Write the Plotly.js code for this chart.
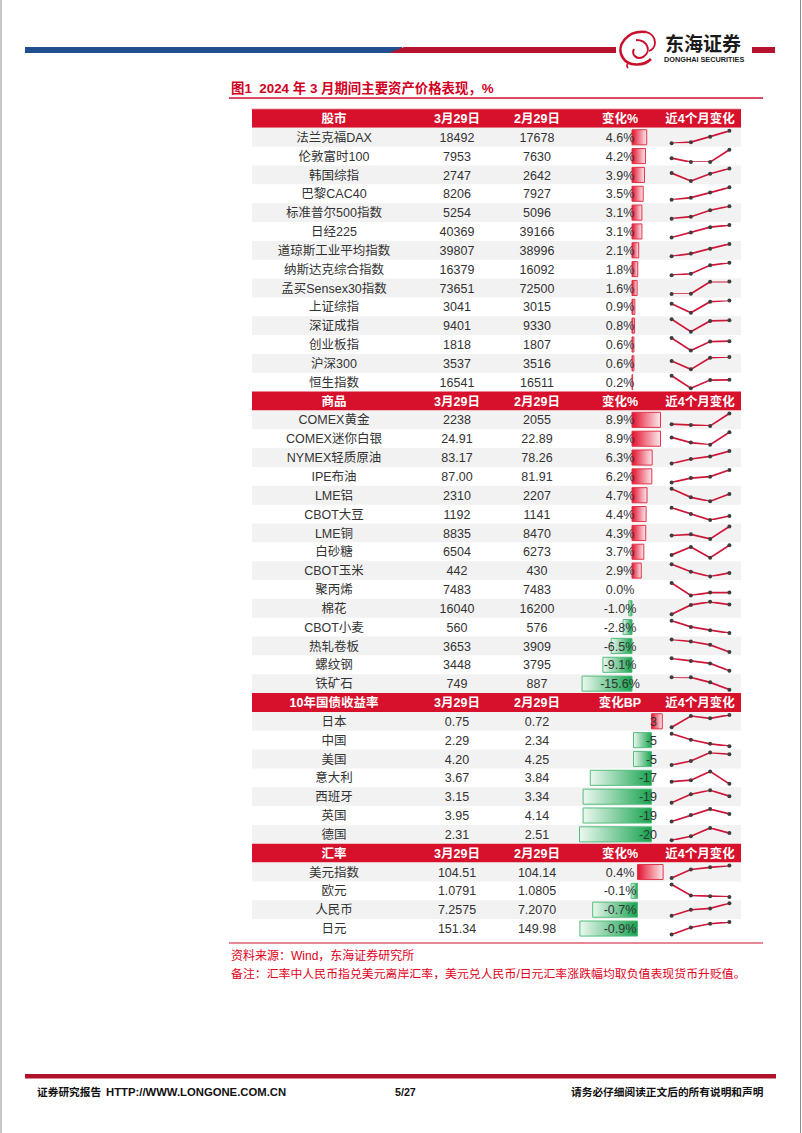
<!DOCTYPE html>
<html>
<head>
<meta charset="utf-8">
<script src="https://cdn.plot.ly/plotly-3.0.1.min.js"></script>
<style>
html,body{margin:0;padding:0;background:#ffffff;}
#chart{width:802px;height:1133px;}
</style>
</head>
<body>
<div id="chart"></div>
<script>
// ---------------- DATA ----------------
const stockHeader = ['股市', '3月29日', '2月29日', '变化%', '近4个月变化'];
const stockNames = ['法兰克福DAX','伦敦富时100','韩国综指','巴黎CAC40','标准普尔500指数','日经225','道琼斯工业平均指数','纳斯达克综合指数','孟买Sensex30指数','上证综指','深证成指','创业板指','沪深300','恒生指数'];
const stockMar = [18492,7953,2747,8206,5254,40369,39807,16379,73651,3041,9401,1818,3537,16541];
const stockFeb = [17678,7630,2642,7927,5096,39166,38996,16092,72500,3015,9330,1807,3516,16511];
const stockDigits = [0,0,0,0,0,0,0,0,0,0,0,0,0,0];
const stockChg = [4.6,4.2,3.9,3.5,3.1,3.1,2.1,1.8,1.6,0.9,0.8,0.6,0.6,0.2];
const stockSpark = [
  [16752,16904,17678,18492],
  [7733,7631,7630,7953],
  [2655,2497,2642,2747],
  [7543,7657,7927,8206],
  [4770,4846,5096,5254],
  [33464,36287,39166,40369],
  [37690,38150,38996,39807],
  [15011,15164,16092,16379],
  [71450,71480,73620,73651],
  [2975,2789,3015,3041],
  [9525,8113,9330,9401],
  [1891,1593,1807,1818],
  [3431,3216,3516,3537],
  [17047,15485,16511,16541]
];

const comHeader = ['商品', '3月29日', '2月29日', '变化%', '近4个月变化'];
const comNames = ['COMEX黄金','COMEX迷你白银','NYMEX轻质原油','IPE布油','LME铝','CBOT大豆','LME铜','白砂糖','CBOT玉米','聚丙烯','棉花','CBOT小麦','热轧卷板','螺纹钢','铁矿石'];
const comMar = [2238,24.91,83.17,87.00,2310,1192,8835,6504,442,7483,16040,560,3653,3448,749];
const comFeb = [2055,22.89,78.26,81.91,2207,1141,8470,6273,430,7483,16200,576,3909,3795,887];
const comDigits = [0,2,2,2,0,0,0,0,0,0,0,0,0,0,0];
const comChg = [8.9,8.9,6.3,6.2,4.7,4.4,4.3,3.7,2.9,0.0,-1.0,-2.8,-6.5,-9.1,-15.6];
const comSpark = [
  [2080,2069,2055,2238],
  [24.08,23.24,22.89,24.91],
  [71.65,75.85,78.26,83.17],
  [77.5,80.8,81.91,87.00],
  [2384,2262,2207,2310],
  [1298,1218,1141,1192],
  [8570,8605,8470,8835],
  [6326,6472,6273,6504],
  [471,446,430,442],
  [7694,7420,7483,7483],
  [15470,16020,16200,16040],
  [628,594,576,560],
  [4100,4030,3909,3653],
  [4030,3910,3795,3448],
  [985,982,887,749]
];

const bondHeader = ['10年国债收益率', '3月29日', '2月29日', '变化BP', '近4个月变化'];
const bondNames = ['日本','中国','美国','意大利','西班牙','英国','德国'];
const bondMar = [0.75,2.29,4.20,3.67,3.15,3.95,2.31];
const bondFeb = [0.72,2.34,4.25,3.84,3.34,4.14,2.51];
const bondDigits = [2,2,2,2,2,2,2];
const bondChg = [3,-5,-5,-17,-19,-19,-20];
const bondSpark = [
  [0.64,0.74,0.72,0.75],
  [2.56,2.43,2.34,2.29],
  [3.88,4.00,4.25,4.20],
  [3.70,3.72,3.84,3.67],
  [2.94,3.21,3.34,3.15],
  [3.65,3.91,4.14,3.95],
  [2.03,2.19,2.51,2.31]
];

const fxHeader = ['汇率', '3月29日', '2月29日', '变化%', '近4个月变化'];
const fxNames = ['美元指数','欧元','人民币','日元'];
const fxMar = [104.51,1.0791,7.2575,151.34];
const fxFeb = [104.14,1.0805,7.2070,149.98];
const fxDigits = [2,4,4,2];
const fxChg = [0.4,-0.1,-0.7,-0.9];
const fxSpark = [
  [101.9,103.7,104.14,104.51],
  [1.1039,1.0818,1.0805,1.0791],
  [7.1350,7.1940,7.2070,7.2575],
  [141.0,146.9,149.98,151.34]
];

// ---------------- LAYOUT CONSTANTS ----------------
const W = 802, H = 1133;
const TOP = 109, RH = 18.84, NROW = 44;
const TEXT_DY = 0.08;               // optical centring of text inside a row
const X = p => p / W;
const Y = p => 1 - p / H;
const FAM = '"Liberation Sans", Arial, "Noto Sans CJK SC", sans-serif';
const HEAD_RED = '#d7112c';
const TXT = '#333333';
const COLX = {name: 334, mar: 457, feb: 537, chg: 620, spark: 700, bondChg: 657};

const pct = v => v.toFixed(1) + '%';
const bp = v => String(v);

const sections = [
  {head: stockHeader, names: stockNames, mar: stockMar, feb: stockFeb, digits: stockDigits, chg: stockChg, spark: stockSpark, xa: 'x2', fmt: pct, right: false},
  {head: comHeader, names: comNames, mar: comMar, feb: comFeb, digits: comDigits, chg: comChg, spark: comSpark, xa: 'x2', fmt: pct, right: false},
  {head: bondHeader, names: bondNames, mar: bondMar, feb: bondFeb, digits: bondDigits, chg: bondChg, spark: bondSpark, xa: 'x3', fmt: bp, right: true},
  {head: fxHeader, names: fxNames, mar: fxMar, feb: fxFeb, digits: fxDigits, chg: fxChg, spark: fxSpark, xa: 'x4', fmt: pct, right: false}
];

const shapes = [];
const barTraces = [];
const sparkTraces = [];
const layoutAxes = {};

const headTxt = {x: [], y: [], t: []};
const cols = {name: {x: [], y: [], t: []}, mar: {x: [], y: [], t: []}, feb: {x: [], y: [], t: []}, chg: {x: [], y: [], t: []}, chgR: {x: [], y: [], t: []}};

let r = 0;
let sparkN = 0;
sections.forEach(sec => {
  // header row
  shapes.push({type: 'rect', xref: 'x', yref: 'y', x0: 252, x1: 741, y0: r - 0.5, y1: r + 0.5,
    fillcolor: HEAD_RED, line: {width: 0}, layer: 'below'});
  const hx = [COLX.name, COLX.mar, COLX.feb, COLX.chg, COLX.spark];
  sec.head.forEach((h, j) => { headTxt.x.push(hx[j]); headTxt.y.push(r + TEXT_DY); headTxt.t.push(h); });
  r++;
  sec.names.forEach((nm, k) => {
    if (k % 2 === 0) {
      shapes.push({type: 'rect', xref: 'x', yref: 'y', x0: 252, x1: 741, y0: r - 0.5, y1: r + 0.5,
        fillcolor: '#f2f2f2', line: {width: 0}, layer: 'below'});
    }
    const ty = r + TEXT_DY;
    cols.name.x.push(COLX.name); cols.name.y.push(ty); cols.name.t.push(nm);
    cols.mar.x.push(COLX.mar); cols.mar.y.push(ty); cols.mar.t.push(sec.mar[k].toFixed(sec.digits[k]));
    cols.feb.x.push(COLX.feb); cols.feb.y.push(ty); cols.feb.t.push(sec.feb[k].toFixed(sec.digits[k]));
    if (sec.right) {
      cols.chgR.x.push(COLX.bondChg); cols.chgR.y.push(ty); cols.chgR.t.push(sec.fmt(sec.chg[k]));
    } else {
      cols.chg.x.push(COLX.chg); cols.chg.y.push(ty); cols.chg.t.push(sec.fmt(sec.chg[k]));
    }
    // data bar
    const v = sec.chg[k];
    if (v !== 0) {
      const hh = 0.4;
      const pos = v > 0;
      barTraces.push({
        type: 'scatter', mode: 'lines', xaxis: sec.xa, yaxis: 'y',
        x: [0, v, v, 0, 0], y: [r - hh, r - hh, r + hh, r + hh, r - hh],
        fill: 'toself',
        line: {color: pos ? '#e2334a' : '#52bd7c', width: 1},
        fillcolor: pos ? '#ef7a88' : '#7fd09f',
        fillgradient: {type: 'horizontal',
          colorscale: pos ? [[0, '#e3102d'], [1, '#fdeaed']] : [[0, '#ecf8f0'], [1, '#17a34f']]},
        hoverinfo: 'skip', showlegend: false
      });
    }
    // sparkline on its own y axis
    const s = sec.spark[k];
    const yid = sparkN + 2;
    const topPx = TOP + r * RH + 3.0;
    const botPx = TOP + (r + 1) * RH - 3.4;
    const mn = Math.min(...s), mx = Math.max(...s);
    layoutAxes['yaxis' + yid] = {domain: [Y(botPx), Y(topPx)], range: [mn, mx], anchor: 'x5',
      visible: false, fixedrange: true};
    sparkTraces.push({
      type: 'scatter', mode: 'lines+markers', xaxis: 'x5', yaxis: 'y' + yid,
      x: [0, 1, 2, 3], y: s,
      line: {color: '#cf1638', width: 1.7},
      marker: {size: 4, color: '#3d3d3d'},
      cliponaxis: false, hoverinfo: 'skip', showlegend: false
    });
    sparkN++;
    r++;
  });
});

const txtFont = {family: FAM, size: 12.5, color: TXT};
function textTrace(c, pos, font) {
  return {type: 'scatter', mode: 'text', xaxis: 'x6', yaxis: 'y', x: c.x, y: c.y, text: c.t,
    textposition: pos, textfont: font || txtFont, cliponaxis: false, hoverinfo: 'skip', showlegend: false};
}
const textTraces = [
  textTrace(headTxt, 'middle center', {family: FAM, size: 12.5, color: '#ffffff', weight: 'bold'}),
  textTrace(cols.name, 'middle center'),
  textTrace(cols.mar, 'middle center'),
  textTrace(cols.feb, 'middle center'),
  textTrace(cols.chg, 'middle center'),
  textTrace(cols.chgR, 'middle left')
];

// ---------------- PAGE DECORATION ----------------
function pathPx(str) {
  const tok = str.trim().split(/\s+/);
  let out = [], isX = true;
  tok.forEach(t => {
    if (/^[A-Za-z]$/.test(t)) { out.push(t); isX = true; }
    else { const n = parseFloat(t); out.push(isX ? X(n).toFixed(5) : Y(n).toFixed(5)); isX = !isX; }
  });
  return out.join(' ');
}
shapes.push({type: 'line', xref: 'paper', yref: 'paper', x0: X(1), x1: X(1), y0: 0, y1: 1, line: {color: '#8c8c8c', width: 1}});
shapes.push({type: 'line', xref: 'paper', yref: 'paper', x0: X(800.5), x1: X(800.5), y0: 0, y1: 1, line: {color: '#8c8c8c', width: 1}});
shapes.push({type: 'rect', xref: 'paper', yref: 'paper', x0: X(25), x1: X(402), y0: Y(53), y1: Y(47), fillcolor: '#1f4f8f', line: {width: 0}});
shapes.push({type: 'path', xref: 'paper', yref: 'paper', path: pathPx('M 389 53 L 404 47 L 616 47 L 616 53 Z'), fillcolor: '#b7132f', line: {width: 0}});
shapes.push({type: 'rect', xref: 'paper', yref: 'paper', x0: X(752), x1: X(775), y0: Y(53), y1: Y(47), fillcolor: '#b7132f', line: {width: 0}});
// logo mark (stylised dragon)
shapes.push({type: 'path', xref: 'paper', yref: 'paper', path: pathPx('M 646 32 C 627 30 615 46 623 58 C 628 66 643 67 651 59'), line: {color: '#c8102e', width: 2.6}});
shapes.push({type: 'path', xref: 'paper', yref: 'paper', path: pathPx('M 636 40 C 648 40 652 52 643 57 C 637 60 631 55 634 49'), line: {color: '#c8102e', width: 2}});
shapes.push({type: 'path', xref: 'paper', yref: 'paper', path: pathPx('M 646 32 C 651 33 655 37 655 43 C 655 47 652 50 649 51'), line: {color: '#c8102e', width: 1.8}});
shapes.push({type: 'path', xref: 'paper', yref: 'paper', path: pathPx('M 629 62 C 627 64 626 66 628 68'), line: {color: '#c8102e', width: 1.6}});
// title underline
shapes.push({type: 'line', xref: 'paper', yref: 'paper', x0: X(229), x1: X(763), y0: Y(98), y1: Y(98), line: {color: '#c8102e', width: 1.6}});
// table top thin line
shapes.push({type: 'line', xref: 'paper', yref: 'paper', x0: X(251), x1: X(740), y0: Y(109), y1: Y(109), line: {color: '#e48a95', width: 0.8}});
// source line
shapes.push({type: 'line', xref: 'paper', yref: 'paper', x0: X(229), x1: X(763), y0: Y(943), y1: Y(943), line: {color: '#d0102e', width: 1.2}});
// footer bar
shapes.push({type: 'rect', xref: 'paper', yref: 'paper', x0: X(25), x1: X(776), y0: Y(1078.5), y1: Y(1074), fillcolor: '#b0122c', line: {width: 0}});

const annotations = [
  {xref: 'paper', yref: 'paper', x: X(229), y: Y(88), xanchor: 'left', yanchor: 'middle', showarrow: false,
    text: '图1  2024 年 3 月期间主要资产价格表现，%', font: {family: FAM, size: 13.4, color: '#d2001f', weight: 'bold'}},
  {xref: 'paper', yref: 'paper', x: X(703), y: Y(43), xanchor: 'center', yanchor: 'middle', showarrow: false,
    text: '东海证券', font: {family: '"Noto Sans CJK SC", sans-serif', size: 19, color: '#1a1a1a', weight: 'bold'}},
  {xref: 'paper', yref: 'paper', x: X(704), y: Y(59.5), xanchor: 'center', yanchor: 'middle', showarrow: false,
    text: 'DONGHAI SECURITIES', font: {family: FAM, size: 7.3, color: '#1a1a1a', weight: 'bold'}},
  {xref: 'paper', yref: 'paper', x: X(229), y: Y(955), xanchor: 'left', yanchor: 'middle', showarrow: false,
    text: '资料来源：Wind，东海证券研究所', font: {family: FAM, size: 12.0, color: '#e2001a'}},
  {xref: 'paper', yref: 'paper', x: X(229), y: Y(974), xanchor: 'left', yanchor: 'middle', showarrow: false,
    text: '备注：汇率中人民币指兑美元离岸汇率，美元兑人民币/日元汇率涨跌幅均取负值表现货币升贬值。', font: {family: FAM, size: 11.9, color: '#e2001a'}},
  {xref: 'paper', yref: 'paper', x: X(35), y: Y(1092), xanchor: 'left', yanchor: 'middle', showarrow: false,
    text: '证券研究报告', font: {family: FAM, size: 10.7, color: '#111111', weight: 'bold'}},
  {xref: 'paper', yref: 'paper', x: X(104), y: Y(1092), xanchor: 'left', yanchor: 'middle', showarrow: false,
    text: 'HTTP://WWW.LONGONE.COM.CN', font: {family: FAM, size: 11.3, color: '#111111', weight: 'bold'}},
  {xref: 'paper', yref: 'paper', x: X(405), y: Y(1092), xanchor: 'center', yanchor: 'middle', showarrow: false,
    text: '5/27', font: {family: FAM, size: 10.7, color: '#111111', weight: 'bold'}},
  {xref: 'paper', yref: 'paper', x: X(766), y: Y(1092), xanchor: 'right', yanchor: 'middle', showarrow: false,
    text: '请务必仔细阅读正文后的所有说明和声明', font: {family: FAM, size: 10.7, color: '#111111', weight: 'bold'}}
];

const hidden = {visible: false, fixedrange: true, showgrid: false, zeroline: false};
const layout = Object.assign({
  width: W, height: H,
  margin: {l: 0, r: 0, t: 0, b: 0, pad: 0},
  paper_bgcolor: '#ffffff', plot_bgcolor: 'rgba(0,0,0,0)',
  showlegend: false, hovermode: false,
  xaxis: Object.assign({domain: [0, 1], range: [0, W]}, hidden),
  yaxis: Object.assign({domain: [Y(TOP + NROW * RH), Y(TOP)], range: [NROW - 0.5, -0.5]}, hidden),
  xaxis2: Object.assign({overlaying: 'x', anchor: 'y', range: [(0 - 632) / 3.2, (W - 632) / 3.2]}, hidden),
  xaxis3: Object.assign({overlaying: 'x', anchor: 'y', range: [(0 - 651.5) / 3.6, (W - 651.5) / 3.6]}, hidden),
  xaxis4: Object.assign({overlaying: 'x', anchor: 'y', range: [(0 - 637.5) / 64, (W - 637.5) / 64]}, hidden),
  xaxis5: Object.assign({domain: [X(662), X(739)], range: [-0.5, 3.5], anchor: 'y2'}, hidden),
  xaxis6: Object.assign({overlaying: 'x', anchor: 'y', range: [0, W]}, hidden),
  shapes: shapes,
  annotations: annotations
}, layoutAxes);

Plotly.newPlot('chart', barTraces.concat(sparkTraces, textTraces), layout, {staticPlot: true, displayModeBar: false});
</script>
</body>
</html>
